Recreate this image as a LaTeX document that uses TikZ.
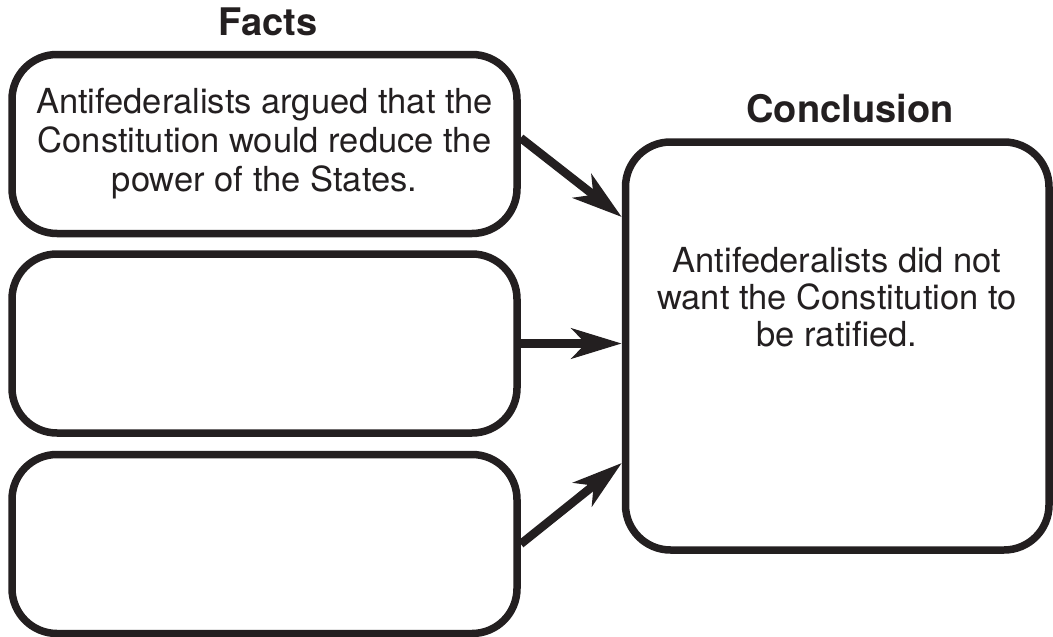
\documentclass[tikz,border=0pt]{standalone}
\usepackage{fontspec}
\setmainfont{TeX Gyre Heros}
\usetikzlibrary{arrows.meta}
\definecolor{ink}{HTML}{231F20}
\begin{document}
\begin{tikzpicture}[x=1pt,y=-1pt,
  box/.style={draw=ink, line width=7.5pt, rounded corners=45pt, minimum width=505pt,
    minimum height=179pt, inner sep=0pt, align=center, text=ink,
    font=\fontsize{34.5}{39}\selectfont},
  bigbox/.style={box, minimum width=423.5pt, minimum height=408pt},
  bodytext/.style={text=ink, align=center, inner sep=0pt, font=\fontsize{34.5}{37}\selectfont},
  title/.style={text=ink, inner sep=0pt, font=\bfseries\fontsize{38}{44}\selectfont},
  link/.style={draw=ink, line width=8.5pt, -{Stealth[length=50pt, width=30pt, inset=14pt]}},
]
\useasboundingbox (0,0) rectangle (1053,637);
\node[title] (facts) at (268,22) {Facts};
\node[title] (concl) at (850,109) {Conclusion};
\node[box] (f1) at (264.5,144) {Antifederalists argued that the\\Constitution would reduce the\\power of the States.};
\node[box] (f2) at (264.5,343.5) {};
\node[box] (f3) at (264.5,544) {};
\node[bigbox] (c) at (837.25,346) {};
\node[bodytext] (ctext) at (837,297) {Antifederalists did not\\want the Constitution to\\be ratified.};
\draw[link] ([yshift=6pt]f1.east) -- ([yshift=129pt]c.west);
\draw[link] (f2.east) -- (f2.east -| c.west);
\draw[link] (f3.east) -- ([yshift=-117pt]c.west);
\end{tikzpicture}
\end{document}
